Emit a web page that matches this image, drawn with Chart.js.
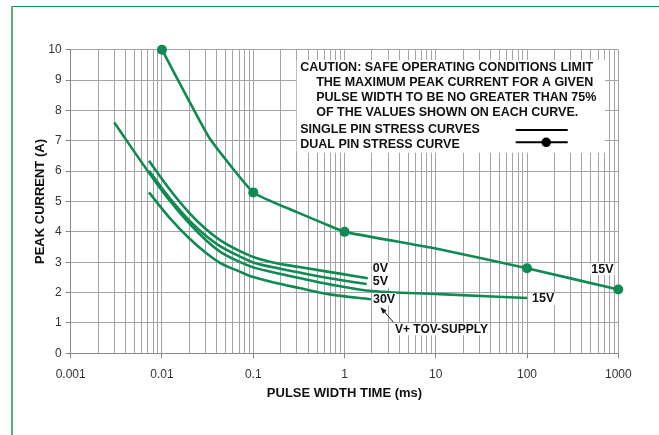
<!DOCTYPE html>
<html>
<head>
<meta charset="utf-8">
<script src="https://cdn.jsdelivr.net/npm/chart.js@4.4.0/dist/chart.umd.min.js"></script>
<style>
    html, body {margin: 0; padding: 0; background: #fff;}
    #wrap {position: relative; width: 659px; height: 435px;}
</style>
</head>
<body>
<div id="wrap"><canvas id="grafico" width="659" height="435"></canvas></div>
<script>
// Dados (largura de pulso em ms, corrente em A)
var xTickLabels = ['0.001', '0.01', '0.1', '1', '10', '100', '1000'];
var xDecadas = [0.001, 0.01, 0.1, 1, 10, 100, 1000];
var yTicks = [0, 1, 2, 3, 4, 5, 6, 7, 8, 9, 10];

var pulso0V = [0.0072, 0.012, 0.02, 0.03, 0.0432, 0.07, 0.1, 0.16, 0.32, 1, 1.8];
var corrente0V = [6.34, 5.42, 4.62, 4.1, 3.73, 3.38, 3.17, 3.0, 2.84, 2.6, 2.47];

var pulso5V = [0.0072, 0.012, 0.02, 0.03, 0.0432, 0.07, 0.1, 0.16, 0.32, 0.69, 1.75];
var corrente5V = [6.01, 5.13, 4.37, 3.88, 3.53, 3.2, 2.99, 2.84, 2.66, 2.47, 2.28];

var pulso15V = [0.003, 0.0072, 0.012, 0.02, 0.03, 0.0432, 0.07, 0.1, 0.16, 0.32, 0.69, 1.74, 11, 100];
var corrente15V = [7.6, 5.95, 5.05, 4.27, 3.74, 3.35, 3.02, 2.83, 2.68, 2.48, 2.27, 2.07, 1.95, 1.82];

var pulso30V = [0.0072, 0.012, 0.02, 0.03, 0.0432, 0.07, 0.1, 0.16, 0.32, 0.69, 1.95];
var corrente30V = [5.3, 4.48, 3.78, 3.32, 2.98, 2.7, 2.51, 2.35, 2.15, 1.94, 1.78];

var pulsoDual = [0.01, 0.033, 0.1, 0.3, 0.6, 1, 10, 100, 1000];
var correnteDual = [10, 7.1, 5.3, 4.65, 4.27, 4.0, 3.45, 2.8, 2.1];
var pontosDual = [5, 0, 5, 0, 0, 5, 0, 5, 5];

var textoAviso = [
    'CAUTION: SAFE OPERATING CONDITIONS LIMIT',
    'THE MAXIMUM PEAK CURRENT FOR A GIVEN',
    'PULSE WIDTH TO BE NO GREATER THAN 75%',
    'OF THE VALUES SHOWN ON EACH CURVE.'
];

var verde = '#0f8a52';
var fonte = '"Liberation Sans", Arial, Helvetica, sans-serif';

function pares(xs, ys) {
    return xs.map(function (x, i) { return {x: x, y: ys[i]}; });
}

// linhas da grade: 1..9 em cada década
var gradeX = [];
xDecadas.forEach(function (d, i) {
    if (i === xDecadas.length - 1) { gradeX.push(d); return; }
    for (var k = 1; k <= 9; k++) gradeX.push(+(d * k).toPrecision(3));
});

function ehDecada(v) {
    return xDecadas.some(function (d) { return Math.abs(v - d) / d < 1e-6; });
}

function serieSimples(xs, ys) {
    return {
        data: pares(xs, ys),
        borderColor: verde,
        borderWidth: 2.6,
        pointRadius: 0,
        cubicInterpolationMode: 'monotone',
        fill: false
    };
}

var anotacoes = {
    id: 'anotacoes',
    beforeDraw: function (chart) {
        var ctx = chart.ctx;
        ctx.save();
        ctx.fillStyle = '#fff';
        ctx.fillRect(0, 0, chart.width, chart.height);
        ctx.strokeStyle = '#1d8c50';
        ctx.lineWidth = 1.2;
        ctx.beginPath();
        ctx.moveTo(11, 6.5);
        ctx.lineTo(chart.width, 6.5);
        ctx.stroke();
        ctx.strokeStyle = '#58ad7c';
        ctx.lineWidth = 2;
        ctx.beginPath();
        ctx.moveTo(12, 6);
        ctx.lineTo(12, chart.height);
        ctx.stroke();
        ctx.restore();
    },
    beforeDatasetsDraw: function (chart) {
        var ctx = chart.ctx;
        var ca = chart.chartArea;
        var bx = ca.left + 226, by = ca.top + 10.3;
        var bw = 308.3, bh = 92.7;
        ctx.save();
        ctx.fillStyle = '#fff';
        ctx.fillRect(bx, by, bw, bh);
        ctx.fillStyle = '#111';
        ctx.font = 'bold 12.5px ' + fonte;
        ctx.textBaseline = 'middle';
        ctx.textAlign = 'left';
        ctx.fillText(textoAviso[0], bx + 3.5, by + 7.8);
        ctx.fillText(textoAviso[1], bx + 19.5, by + 22.5);
        ctx.fillText(textoAviso[2], bx + 19.5, by + 37.6);
        ctx.fillText(textoAviso[3], bx + 19.5, by + 52.4);
        ctx.fillText('SINGLE PIN STRESS CURVES', bx + 3.5, by + 69.2);
        ctx.fillText('DUAL PIN STRESS CURVE', bx + 3.5, by + 84.2);
        // amostras da legenda
        ctx.strokeStyle = '#000';
        ctx.lineWidth = 2;
        ctx.beginPath();
        ctx.moveTo(bx + 219, by + 70);
        ctx.lineTo(bx + 271, by + 70);
        ctx.moveTo(bx + 219, by + 82.3);
        ctx.lineTo(bx + 271, by + 82.3);
        ctx.stroke();
        ctx.fillStyle = '#000';
        ctx.beginPath();
        ctx.arc(bx + 249.5, by + 82.3, 4.8, 0, Math.PI * 2);
        ctx.fill();
        ctx.restore();
    },
    afterDatasetsDraw: function (chart) {
        var ctx = chart.ctx;
        var xs = chart.scales.x, ys = chart.scales.y;
        function px(xv, yv) { return [xs.getPixelForValue(xv), ys.getPixelForValue(yv)]; }
        function rotulo(txt, p, dx, dy, tam) {
            ctx.font = 'bold ' + (tam || 12.5) + 'px ' + fonte;
            var w = ctx.measureText(txt).width;
            ctx.fillStyle = '#fff';
            ctx.fillRect(p[0] + dx - 1, p[1] + dy - 6, w + 2, 12);
            ctx.fillStyle = '#111';
            ctx.fillText(txt, p[0] + dx, p[1] + dy);
        }
        ctx.save();
        ctx.textBaseline = 'middle';
        ctx.textAlign = 'left';
        var n;
        n = pulso0V.length - 1;
        rotulo('0V', px(pulso0V[n], corrente0V[n]), 5, -9.6);
        n = pulso5V.length - 1;
        rotulo('5V', px(pulso5V[n], corrente5V[n]), 6, -2.4);
        n = pulso15V.length - 1;
        rotulo('15V', px(pulso15V[n], corrente15V[n]), 5, 1);
        n = pulsoDual.length - 1;
        rotulo('15V', px(pulsoDual[n], correnteDual[n]), -27, -20.3);
        n = pulso30V.length - 1;
        var p30 = px(pulso30V[n], corrente30V[n]);
        rotulo('30V', p30, 2, 0);
        rotulo('V+ TOV-SUPPLY', p30, 24, 30, 12);
        // seta
        ctx.strokeStyle = '#111';
        ctx.lineWidth = 1;
        var tx = p30[0] + 9.5, ty = p30[1] + 8;
        ctx.beginPath();
        ctx.moveTo(p30[0] + 22.5, p30[1] + 23);
        ctx.lineTo(tx + 1, ty + 1.2);
        ctx.stroke();
        ctx.fillStyle = '#111';
        ctx.beginPath();
        ctx.moveTo(tx, ty);
        ctx.lineTo(tx + 6.2, ty + 3.2);
        ctx.lineTo(tx + 2.4, ty + 6.6);
        ctx.closePath();
        ctx.fill();
        ctx.restore();
    }
};

var ctx = document.getElementById('grafico').getContext('2d');
Chart.defaults.font.family = fonte;

var grafico = new Chart(ctx, {
    type: 'line',
    data: {
        datasets: [
            serieSimples(pulso0V, corrente0V),
            serieSimples(pulso5V, corrente5V),
            serieSimples(pulso15V, corrente15V),
            serieSimples(pulso30V, corrente30V),
            {
                data: pares(pulsoDual, correnteDual),
                borderColor: verde,
                backgroundColor: verde,
                borderWidth: 2.6,
                pointRadius: pontosDual,
                pointBorderWidth: 0,
                tension: 0.12,
                clip: false,
                fill: false
            }
        ]
    },
    options: {
        responsive: false,
        animation: false,
        devicePixelRatio: 1,
        layout: {padding: {left: 0, right: 40.7, top: 49.7, bottom: 0}},
        plugins: {
            legend: {display: false},
            tooltip: {enabled: false}
        },
        scales: {
            x: {
                type: 'logarithmic',
                min: 0.001,
                max: 1000,
                afterBuildTicks: function (scale) {
                    scale.ticks = gradeX.map(function (v) { return {value: v, major: ehDecada(v)}; });
                },
                afterFit: function (scale) { scale.height = 81.7; },
                grid: {
                    color: '#a4a4a4',
                    lineWidth: 1,
                    tickLength: 5,
                    tickColor: function (c) {
                        return c.tick && ehDecada(c.tick.value) ? '#888' : 'rgba(0,0,0,0)';
                    }
                },
                border: {color: '#8a8a8a'},
                ticks: {
                    autoSkip: false,
                    maxRotation: 0,
                    padding: 9,
                    color: '#333',
                    font: {size: 12},
                    callback: function (value) {
                        var i = xDecadas.findIndex(function (d) { return Math.abs(value - d) / d < 1e-6; });
                        return i >= 0 ? xTickLabels[i] : '';
                    }
                },
                title: {
                    display: true,
                    text: 'PULSE WIDTH TIME (ms)',
                    color: '#111',
                    font: {size: 13, weight: 'bold'},
                    padding: {top: 0, bottom: 34}
                }
            },
            y: {
                min: 0,
                max: 10,
                afterBuildTicks: function (scale) {
                    scale.ticks = yTicks.map(function (v) { return {value: v}; });
                },
                afterFit: function (scale) { scale.width = 70.7; },
                grid: {color: '#a4a4a4', lineWidth: 1, tickLength: 5, tickColor: '#888'},
                border: {color: '#8a8a8a'},
                ticks: {
                    padding: 4,
                    color: '#333',
                    font: {size: 12}
                },
                title: {
                    display: true,
                    text: 'PEAK CURRENT (A)',
                    color: '#111',
                    font: {size: 13, weight: 'bold'},
                    padding: {top: 33, bottom: 0}
                }
            }
        }
    },
    plugins: [anotacoes]
});
</script>
</body>
</html>
